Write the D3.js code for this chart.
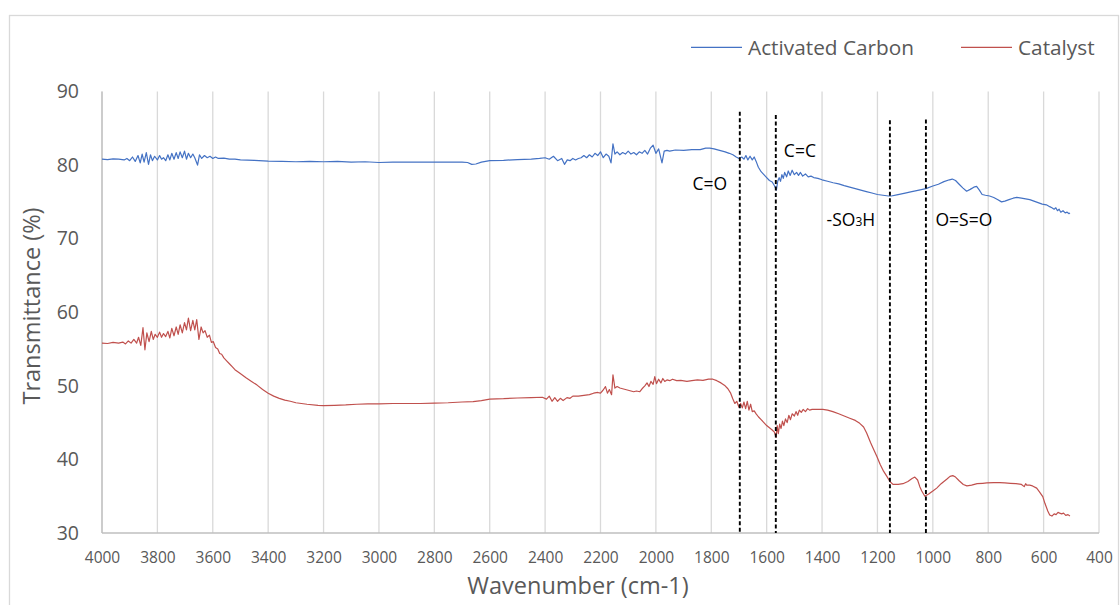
<!DOCTYPE html>
<html>
<head>
<meta charset="utf-8">
<script src="https://cdn.jsdelivr.net/npm/d3@7"></script>
<style>
  html, body { margin: 0; padding: 0; background: #fff; }
  svg { display: block; font-family: "Open Sans", "Noto Sans", sans-serif; }
</style>
</head>
<body>
<svg id="chart" width="1120" height="605"></svg>
<script>
// FTIR spectra: wavenumber (cm-1) and transmittance (%)
const acWave = [4000,3980,3960,3940,3920,3910,3900,3890,3880,3870,3862,3855,3848,3840,3832,3825,3818,3810,3800,3792,3785,3778,3770,3762,3755,3748,3740,3732,3725,3718,3710,3702,3695,3688,3680,3672,3665,3655,3648,3640,3630,3620,3610,3600,3590,3580,3560,3540,3520,3500,3450,3400,3350,3300,3250,3200,3150,3100,3050,3000,2950,2900,2850,2800,2750,2700,2680,2665,2650,2630,2600,2550,2500,2450,2420,2400,2385,2370,2355,2340,2330,2320,2310,2300,2290,2280,2270,2260,2250,2240,2230,2220,2210,2200,2190,2180,2170,2162,2155,2148,2140,2130,2120,2110,2100,2090,2080,2070,2060,2050,2040,2030,2020,2010,2000,1990,1978,1970,1960,1950,1930,1900,1870,1840,1820,1805,1790,1770,1750,1735,1722,1710,1700,1690,1682,1675,1668,1660,1652,1645,1638,1630,1620,1610,1600,1590,1580,1572,1565,1560,1555,1550,1545,1540,1535,1528,1522,1515,1508,1500,1492,1485,1478,1470,1460,1450,1440,1430,1415,1400,1380,1360,1340,1320,1300,1280,1260,1240,1220,1200,1180,1160,1150,1130,1100,1080,1050,1025,1000,980,960,940,930,918,905,892,878,865,852,842,832,822,810,795,780,765,752,740,725,710,697,680,665,650,635,620,605,590,578,570,562,556,550,544,538,530,522,515,508,505];
const acT = [80.8,80.75,80.85,80.8,80.7,80.9,80.6,81.1,80.5,81.3,80.3,81.5,80.4,81.7,80.1,81.4,80.6,81.2,80.7,81.3,80.8,81.0,80.6,81.4,80.7,81.6,80.8,81.7,80.9,81.8,81.0,81.9,80.8,81.6,81.0,81.5,81.0,80.0,81.4,80.9,81.3,81.0,81.2,80.9,81.1,80.9,80.95,80.8,80.8,80.7,80.65,80.55,80.5,80.45,80.5,80.45,80.5,80.4,80.45,80.35,80.4,80.4,80.4,80.4,80.4,80.4,80.35,80.1,80.15,80.4,80.6,80.65,80.75,80.8,80.9,81.0,80.8,81.2,80.6,80.9,80.1,80.7,80.6,80.9,80.7,80.9,81.0,81.3,81.0,81.4,81.1,81.6,81.3,81.8,81.0,81.5,81.2,80.3,82.9,81.5,81.8,81.4,81.7,81.5,81.9,81.5,81.7,81.4,81.8,81.6,82.0,81.5,82.3,82.7,81.6,82.2,80.3,81.9,82.0,81.9,82.05,82.0,82.1,82.1,82.3,82.3,82.2,82.0,81.8,81.6,81.4,81.1,80.9,81.1,80.8,81.3,80.7,81.2,80.7,81.1,80.5,79.7,79.1,78.7,78.3,77.9,77.7,77.2,76.6,77.8,78.3,77.8,78.7,78.2,79.0,78.4,79.2,78.6,79.3,78.7,79.0,78.6,79.0,78.5,78.8,78.4,78.5,78.3,78.2,78.0,77.8,77.6,77.45,77.2,77.0,76.8,76.6,76.4,76.2,76.0,75.9,75.8,75.8,75.95,76.2,76.35,76.6,76.8,77.15,77.4,77.75,78.0,78.1,77.9,77.4,76.9,76.45,76.7,77.0,77.1,76.6,76.0,75.9,75.8,75.6,75.3,75.0,75.1,75.3,75.5,75.6,75.5,75.4,75.3,75.1,74.9,74.7,74.6,74.35,74.2,74.0,74.2,73.8,74.0,73.6,73.8,73.5,73.6,73.4,73.5];

const catWave = [4000,3980,3960,3940,3925,3915,3905,3895,3885,3875,3868,3860,3852,3845,3838,3830,3822,3815,3808,3800,3792,3785,3778,3770,3762,3755,3748,3740,3732,3725,3718,3710,3702,3695,3688,3680,3672,3665,3658,3650,3642,3635,3628,3620,3612,3605,3598,3590,3582,3575,3568,3560,3550,3540,3530,3520,3502,3480,3460,3440,3420,3400,3380,3360,3340,3320,3300,3260,3220,3200,3160,3120,3080,3040,3000,2950,2900,2850,2800,2750,2700,2660,2630,2600,2550,2500,2450,2410,2395,2385,2375,2365,2355,2345,2335,2321,2310,2300,2280,2260,2240,2225,2210,2200,2191,2182,2175,2168,2160,2155,2148,2140,2130,2120,2110,2100,2090,2080,2070,2058,2050,2040,2032,2025,2018,2010,2004,1998,1990,1982,1975,1968,1960,1950,1940,1925,1910,1888,1870,1850,1830,1810,1794,1780,1765,1750,1740,1730,1722,1715,1708,1700,1694,1688,1682,1676,1670,1664,1658,1652,1645,1638,1630,1620,1610,1600,1590,1580,1572,1566,1562,1558,1553,1548,1543,1538,1532,1526,1520,1514,1508,1500,1494,1488,1482,1475,1468,1460,1452,1445,1436,1420,1397,1380,1361,1340,1320,1300,1280,1264,1250,1239,1225,1212,1202,1190,1178,1166,1155,1144,1125,1108,1090,1075,1065,1055,1047,1040,1029,1015,1000,986,970,950,938,928,918,905,890,877,860,840,820,805,780,758,740,720,700,680,670,665,661,650,640,625,615,603,595,585,578,570,562,555,548,542,535,528,520,512,505];
const catT = [55.8,55.75,55.9,55.8,55.95,55.7,56.1,55.8,56.3,55.8,56.6,55.5,57.9,54.9,57.2,56.0,57.4,56.3,57.0,56.6,57.3,56.6,57.1,56.7,57.4,56.5,57.8,56.8,58.0,57.0,58.3,57.2,58.6,57.6,59.2,57.5,58.9,57.6,59.0,56.3,58.0,57.2,57.5,56.6,56.9,55.9,56.0,55.2,55.0,54.4,54.3,53.8,53.4,53.0,52.6,52.2,51.7,51.1,50.6,50.1,49.5,49.0,48.6,48.3,48.05,47.9,47.7,47.5,47.35,47.3,47.35,47.4,47.5,47.55,47.55,47.6,47.6,47.6,47.65,47.7,47.8,47.85,48.0,48.2,48.25,48.35,48.4,48.45,48.2,48.6,47.9,48.4,47.9,48.3,48.0,48.4,48.3,48.6,48.6,48.7,48.8,49.0,49.1,49.0,49.4,49.9,49.0,49.5,48.8,51.5,49.7,49.9,49.7,49.6,49.5,49.4,49.3,49.2,49.3,49.2,49.6,50.0,50.4,49.9,50.6,50.2,51.25,50.3,50.9,50.4,51.0,50.6,50.8,50.7,50.9,50.7,50.75,50.6,50.7,50.8,50.75,50.9,50.9,50.7,50.4,50.0,49.6,49.0,48.2,47.6,47.9,47.1,47.6,47.0,47.8,46.9,47.9,46.7,47.5,46.5,46.6,46.2,45.8,45.4,45.0,44.6,44.3,44.0,43.7,43.0,44.6,43.5,44.8,44.2,45.2,44.6,45.5,45.0,46.0,45.4,46.2,45.9,46.5,46.0,46.7,46.4,46.8,46.5,46.9,46.7,46.8,46.8,46.8,46.7,46.5,46.2,45.9,45.6,45.3,44.9,44.4,43.6,42.3,41.2,40.4,39.3,38.4,37.7,37.0,36.6,36.6,36.7,37.0,37.4,37.6,37.2,36.3,35.7,35.0,35.3,35.7,36.1,36.7,37.3,37.7,37.8,37.6,37.1,36.6,36.4,36.5,36.7,36.75,36.8,36.85,36.85,36.8,36.75,36.7,36.6,36.3,36.7,36.5,36.5,36.4,36.1,35.6,34.95,34.0,33.0,32.45,32.3,32.6,32.5,32.8,32.7,32.6,32.7,32.4,32.5,32.3];

const seriesNames = ["Activated Carbon", "Catalyst"];
const xTicks = d3.range(4000, 399, -200);
const yTicks = [30, 40, 50, 60, 70, 80, 90];

// Band assignments: marker wavenumber, top of the marker line, label text and anchor
const bandWave = [1697, 1567, 1155, 1025];
const bandTop = [87.25, 86.8, 86.1, 86.2];
const bandLabels = ["C=O", "C=C", "-SO3H", "O=S=O"];
const bandLabelWave = [1805, 1480, 1296, 888];
const bandLabelT = [77.6, 82.1, 72.7, 72.7];

const colors = ["#4472C4", "#C0504D"];
const textGray = "#595959";

const svg = d3.select("#chart");
const x = d3.scaleLinear().domain([4000, 400]).range([102, 1099]);
const y = d3.scaleLinear().domain([30, 90]).range([533, 91.5]);

// outer chart frame
svg.append("rect")
  .attr("x", 9.5).attr("y", 15.5)
  .attr("width", 1109).attr("height", 620)
  .attr("fill", "none").attr("stroke", "#d9d9d9").attr("stroke-width", 1.3);

// vertical gridlines
svg.append("g").selectAll("line").data(xTicks).join("line")
  .attr("x1", d => x(d)).attr("x2", d => x(d))
  .attr("y1", y(90)).attr("y2", y(30))
  .attr("stroke", "#d9d9d9").attr("stroke-width", 1.3);

// axis lines
svg.append("line").attr("x1", x(4000)).attr("x2", x(4000)).attr("y1", y(90)).attr("y2", y(30))
  .attr("stroke", "#bfbfbf").attr("stroke-width", 1.3);
svg.append("line").attr("x1", x(4000)).attr("x2", x(400)).attr("y1", y(30)).attr("y2", y(30))
  .attr("stroke", "#bfbfbf").attr("stroke-width", 1.3);

// x axis labels
const xAxis = svg.append("g").attr("transform", `translate(0,${y(30)})`)
  .call(d3.axisBottom(x).tickValues(xTicks).tickSize(0).tickPadding(19).tickFormat(d3.format("d")));
xAxis.select(".domain").remove();
xAxis.selectAll("text").attr("fill", textGray).attr("font-size", 15.5)
  .attr("font-family", "'Open Sans', sans-serif");

// y axis labels
const yAxis = svg.append("g").attr("transform", `translate(${x(4000)},0)`)
  .call(d3.axisLeft(y).tickValues(yTicks).tickSize(0).tickPadding(23).tickFormat(d3.format("d")));
yAxis.select(".domain").remove();
yAxis.selectAll("text").attr("fill", textGray).attr("font-size", 19.5)
  .attr("font-family", "'Open Sans', sans-serif");

// axis titles
svg.append("text").attr("x", 578).attr("y", 594).attr("text-anchor", "middle")
  .attr("fill", textGray).attr("font-size", 23.5).text("Wavenumber (cm-1)");
svg.append("text").attr("transform", "translate(40,306) rotate(-90)").attr("text-anchor", "middle")
  .attr("fill", textGray).attr("font-size", 23.5).text("Transmittance (%)");

// spectra
const line = d3.line().x(d => x(d[0])).y(d => y(d[1]));
const acData = acWave.map((w, i) => [w, acT[i]]);
const catData = catWave.map((w, i) => [w, catT[i]]);
[acData, catData].forEach((data, i) => {
  svg.append("path").datum(data)
    .attr("d", line).attr("fill", "none")
    .attr("stroke", colors[i]).attr("stroke-width", 1.2)
    .attr("stroke-linejoin", "round");
});

// band marker lines
svg.append("g").selectAll("line").data(bandWave).join("line")
  .attr("x1", d => x(d)).attr("x2", d => x(d))
  .attr("y1", (d, i) => y(bandTop[i])).attr("y2", y(30))
  .attr("stroke", "#000").attr("stroke-width", 1.9)
  .attr("stroke-dasharray", "4,2.5");

// band labels, with the digit set as a subscript
const labels = svg.append("g").selectAll("text").data(bandLabels).join("text")
  .attr("x", (d, i) => x(bandLabelWave[i])).attr("y", (d, i) => y(bandLabelT[i]))
  .attr("text-anchor", "middle").attr("dominant-baseline", "central")
  .attr("font-size", 17.5).attr("fill", "#000");
labels.each(function (d) {
  const t = d3.select(this);
  const m = d.match(/^(.*?)(\d)(.*)$/);
  if (m) {
    t.append("tspan").text(m[1]);
    t.append("tspan").attr("font-size", 12).attr("dy", 2).text(m[2]);
    t.append("tspan").attr("dy", -2).text(m[3]);
  } else {
    t.text(d);
  }
});

// legend
const legendX = [691, 961];
const legend = svg.append("g");
seriesNames.forEach((name, i) => {
  legend.append("line").attr("x1", legendX[i]).attr("x2", legendX[i] + 51)
    .attr("y1", 47.3).attr("y2", 47.3).attr("stroke", colors[i]).attr("stroke-width", 1.3);
  legend.append("text").attr("x", legendX[i] + 57).attr("y", 47).attr("dominant-baseline", "central")
    .attr("fill", textGray).attr("font-size", 20.8).text(name);
});
</script>
</body>
</html>
